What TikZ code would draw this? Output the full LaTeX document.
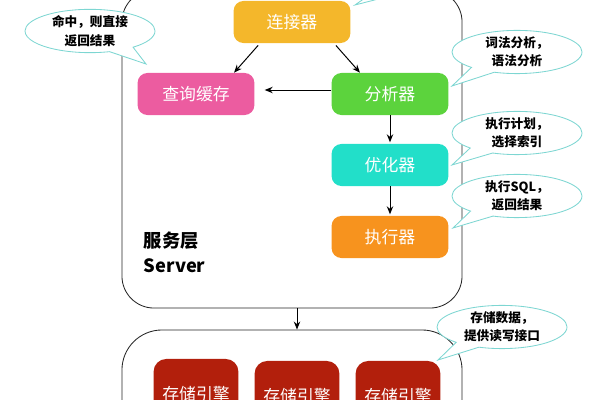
\documentclass[tikz,border=0pt]{standalone}
\usepackage{fontspec}
\setmainfont{Noto Sans CJK SC}
\usepackage{tikz}
\usetikzlibrary{arrows.meta, positioning, shapes.callouts}
\definecolor{svyellow}{HTML}{F4B72B}
\definecolor{svpink}{HTML}{EC5CA0}
\definecolor{svgreen}{HTML}{5CD33D}
\definecolor{svcyan}{HTML}{22DFC9}
\definecolor{svorange}{HTML}{F7931E}
\definecolor{svred}{HTML}{B21F0C}
\definecolor{notecyan}{HTML}{7DD6D2}

\begin{document}
\begin{tikzpicture}[
  x=0.025cm, y=-0.025cm,
  comp/.style={
    rectangle,
    rounded corners=7pt,
    fill=#1,
    minimum width=2.92cm,
    minimum height=1.05cm,
    font=\fontsize{12}{14}\selectfont,
    text=white
  },
  layer/.style={
    rectangle,
    draw=black!85,
    line width=0.6pt,
    rounded corners=#1,
    minimum width=8.5cm
  },
  eng/.style={
    rectangle,
    rounded corners=9pt,
    fill=svred,
    minimum width=2.12cm,
    minimum height=1.75cm,
    font=\fontsize{12}{14}\selectfont,
    text=white
  },
  note/.style={
    ellipse callout,
    draw=notecyan,
    fill=white,
    line width=0.6pt,
    minimum width=3.25cm,
    minimum height=1.08cm,
    inner sep=0pt,
    align=center,
    callout pointer arc=24,
    font=\fontsize{9}{13}\selectfont\bfseries
  },
  arr/.style={-{Stealth[length=2mm,width=1.6mm]}, line width=0.7pt}
]
  \useasboundingbox (0,0) rectangle (600,400);
  \clip (0,0) rectangle (600,400);

  % layers
  \node[layer=0.8cm, minimum height=7.95cm] (server) at (292,149) {};
  \node[layer=1cm, minimum height=3.5cm] (storage) at (292,400) {};
  \node[anchor=west, align=left, font=\fontsize{13}{18}\selectfont\bfseries] (srvlabel) at (139,252) {服务层\\Server};

  % server components
  \node[comp=svyellow] (conn) at (292,22) {连接器};
  \node[comp=svpink] (cache) at (196,94) {查询缓存};
  \node[comp=svgreen] (parser) at (390,94) {分析器};
  \node[comp=svcyan] (optim) at (390,165) {优化器};
  \node[comp=svorange] (exec) at (390,237) {执行器};

  % storage engines
  \node[eng] (eng1) at (196,394) {存储引擎};
  \node[eng] (eng2) at (297,396) {存储引擎};
  \node[eng] (eng3) at (398,396) {存储引擎};

  \draw[arr, shorten <=2pt] ([xshift=-0.8cm]conn.south) -- ([xshift=0.95cm]cache.north);
  \draw[arr, shorten <=2pt] ([xshift=1.05cm]conn.south) -- ([xshift=-0.75cm]parser.north);
  \draw[arr, shorten >=0.25cm] ([yshift=0.1cm]parser.west) -- ([yshift=0.1cm]cache.east);
  \draw[arr, shorten >=1pt] (parser.south) -- (optim.north);
  \draw[arr, shorten >=1pt] (optim.south) -- (exec.north);
  \draw[arr] (server.south -| eng2) -- (storage.north -| eng2);

  % notes
  \node[note, callout absolute pointer={(355,5)}] (nconn) at (430,-26) {};
  \node[note, callout absolute pointer={(146,64)}] (ncache) at (90,31) {命中，则直接\\返回结果};
  \node[note, callout absolute pointer={(452,86)}] (nparser) at (517,52) {词法分析，\\语法分析};
  \node[note, callout absolute pointer={(452,165)}] (noptim) at (517,133) {执行计划，\\选择索引};
  \node[note, callout absolute pointer={(453,228)}] (nexec) at (517,196) {执行SQL，\\返回结果};
  \node[note, callout absolute pointer={(438,360)}] (nstore) at (502,327) {存储数据，\\提供读写接口};
\end{tikzpicture}
\end{document}
